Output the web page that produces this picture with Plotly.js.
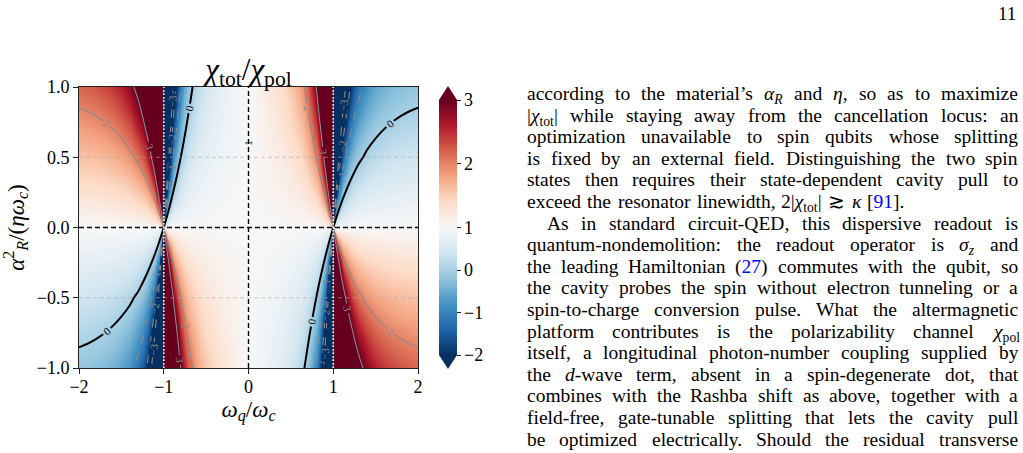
<!DOCTYPE html>
<html>
<head>
<meta charset="utf-8">
<script src="https://cdn.plot.ly/plotly-3.0.1.min.js"></script>
<style>
html,body{margin:0;padding:0;background:#fff;}
#chart{width:1023px;height:453px;}
</style>
</head>
<body>
<div id="chart"></div>
<script>
// ---------------- DATA ----------------
// rows of every z matrix correspond to aRows (alpha_R^2/(eta*omega_c))
const aRows = [-1, -0.5, 0, 0.5, 1];

// omega_q/omega_c  for  -2 .. -1
const xLeft = [-2.0,-1.9,-1.8,-1.7,-1.6,-1.5,-1.4,-1.3,-1.25,-1.2,-1.16,-1.12,-1.09,-1.06,-1.04,-1.025,-1.015,-1.007,-1.002];
const zLeft = [
  [-0.173,-0.209,-0.259,-0.329,-0.429,-0.577,-0.808,-1.206,-1.530,-2.020,-2.636,-3.666,-5.044,-7.804,-11.95,-19.41,-32.67,-70.58,-248.3],
  [0.414,0.396,0.371,0.336,0.286,0.212,0.096,-0.103,-0.265,-0.510,-0.818,-1.333,-2.022,-3.402,-5.475,-9.205,-15.84,-34.79,-123.7],
  [1,1,1,1,1,1,1,1,1,1,1,1,1,1,1,1,1,1,1],
  [1.587,1.605,1.630,1.665,1.715,1.789,1.904,2.103,2.265,2.510,2.818,3.333,4.022,5.402,7.475,11.21,17.84,36.79,125.7],
  [2.173,2.209,2.259,2.329,2.429,2.577,2.808,3.206,3.530,4.020,4.636,5.666,7.044,9.804,13.95,21.41,34.67,72.58,250.3]
];

// omega_q/omega_c  for  -1 .. 1
const xInner = [-0.998,-0.993,-0.985,-0.975,-0.96,-0.94,-0.91,-0.88,-0.84,-0.8,-0.75,-0.7,-0.65,-0.6,-0.55,-0.5,-0.4,-0.3,-0.2,-0.1,0,0.1,0.2,0.3,0.4,0.5,0.55,0.6,0.65,0.7,0.75,0.8,0.84,0.88,0.91,0.94,0.96,0.975,0.985,0.993,0.998];
const zInner = [
  [249.3,71.57,33.67,20.40,12.94,8.796,6.035,4.657,3.625,3.007,2.515,2.187,1.954,1.780,1.644,1.536,1.372,1.252,1.156,1.075,1,0.925,0.844,0.748,0.628,0.464,0.356,0.220,0.046,-0.187,-0.515,-1.007,-1.625,-2.657,-4.035,-6.796,-10.94,-18.40,-31.67,-69.57,-247.3],
  [125.2,36.29,17.34,10.70,6.97,4.898,3.518,2.829,2.313,2.004,1.758,1.594,1.477,1.390,1.322,1.268,1.186,1.126,1.078,1.038,1,0.963,0.922,0.874,0.814,0.732,0.678,0.610,0.523,0.407,0.243,-0.004,-0.313,-0.829,-1.518,-2.898,-4.97,-8.70,-15.34,-34.29,-123.2],
  [1,1,1,1,1,1,1,1,1,1,1,1,1,1,1,1,1,1,1,1,1,1,1,1,1,1,1,1,1,1,1,1,1,1,1,1,1,1,1,1,1],
  [-123.2,-34.29,-15.34,-8.70,-4.97,-2.898,-1.518,-0.829,-0.313,-0.004,0.243,0.407,0.523,0.610,0.678,0.732,0.814,0.874,0.922,0.963,1,1.038,1.078,1.126,1.186,1.268,1.322,1.390,1.477,1.594,1.758,2.004,2.313,2.829,3.518,4.898,6.97,10.70,17.34,36.29,125.2],
  [-247.3,-69.57,-31.67,-18.40,-10.94,-6.796,-4.035,-2.657,-1.625,-1.007,-0.515,-0.187,0.046,0.220,0.356,0.464,0.628,0.748,0.844,0.925,1,1.075,1.156,1.252,1.372,1.536,1.644,1.780,1.954,2.187,2.515,3.007,3.625,4.657,6.035,8.796,12.94,20.40,33.67,71.57,249.3]
];

// omega_q/omega_c  for  1 .. 2
const xRight = [1.002,1.007,1.015,1.025,1.04,1.06,1.09,1.12,1.16,1.2,1.25,1.3,1.4,1.5,1.6,1.7,1.8,1.9,2.0];
const zRight = [
  [250.3,72.58,34.67,21.41,13.95,9.804,7.044,5.666,4.636,4.020,3.530,3.206,2.808,2.577,2.429,2.329,2.259,2.209,2.173],
  [125.7,36.79,17.84,11.21,7.475,5.402,4.022,3.333,2.818,2.510,2.265,2.103,1.904,1.789,1.715,1.665,1.630,1.605,1.587],
  [1,1,1,1,1,1,1,1,1,1,1,1,1,1,1,1,1,1,1],
  [-123.7,-34.79,-15.84,-9.205,-5.475,-3.402,-2.022,-1.333,-0.818,-0.510,-0.265,-0.103,0.096,0.212,0.286,0.336,0.371,0.396,0.414],
  [-248.3,-70.58,-32.67,-19.41,-11.95,-7.804,-5.044,-3.666,-2.636,-2.020,-1.530,-1.206,-0.808,-0.577,-0.429,-0.329,-0.259,-0.209,-0.173]
];

const xTicks = [-2, -1, 0, 1, 2];
const yTicks = [-1, -0.5, 0, 0.5, 1];
const cbTicks = [-2, -1, 0, 1, 2, 3];
const negLevels = [-3, -1];   // dashed gray contours (start, end)
const posLevels = [2, 3];     // solid gray contours
const zeroLevel = 0;          // black contour
const unitLabel = {x: 0, y: 0.6, text: '1'};

const pageNumber = '11';
const textLines = [
  'according to the material’s <i>α</i><sub><i>R</i></sub> and <i>η</i>, so as to maximize',
  '|<i>χ</i><sub>tot</sub>| while staying away from the cancellation locus: an',
  'optimization unavailable to spin qubits whose splitting',
  'is fixed by an external field. Distinguishing the two spin',
  'states then requires their state-dependent cavity pull to',
  'exceed the resonator linewidth, 2|<i>χ</i><sub>tot</sub>| ≳ <i>κ</i> [<span style="color:#0000ff">91</span>].',
  'As in standard circuit-QED, this dispersive readout is',
  'quantum-nondemolition: the readout operator is <i>σ</i><sub><i>z</i></sub> and',
  'the leading Hamiltonian (<span style="color:#0000ff">27</span>) commutes with the qubit, so',
  'the cavity probes the spin without electron tunneling or a',
  'spin-to-charge conversion pulse. What the altermagnetic',
  'platform contributes is the polarizability channel <i>χ</i><sub>pol</sub>',
  'itself, a longitudinal photon-number coupling supplied by',
  'the <i>d</i>-wave term, absent in a spin-degenerate dot, that',
  'combines with the Rashba shift as above, together with a',
  'field-free, gate-tunable splitting that lets the cavity pull',
  'be optimized electrically. Should the residual transverse'
];
const raggedLines = [5];
const indentedLines = [6];

// ---------------- STYLE / LAYOUT ----------------
const W = 1023, H = 453;
const px = v => v / W, py = v => 1 - v / H;
const FONT = 'Liberation Serif, Times New Roman, serif';
const PLOT = {l: 79, r: 418, t: 87, b: 368};
const CB = {l: 439, w: 18, t: 100, b: 355, tip: 14};
const TXT = {l: 527, r: 1018, first: 96, gap: 21.6, indent: 20, size: 19.5};

const NORM = {vmin: -2, vcenter: 1, vmax: 3};
function norm(z) {
  return z >= NORM.vcenter
    ? 0.5 + 0.5 * (z - NORM.vcenter) / (NORM.vmax - NORM.vcenter)
    : 0.5 - 0.5 * (NORM.vcenter - z) / (NORM.vcenter - NORM.vmin);
}
const RdBu_r = [[0,'#053061'],[0.1,'#2166ac'],[0.2,'#4393c3'],[0.3,'#92c5de'],[0.4,'#d1e5f0'],
  [0.5,'#f7f7f7'],[0.6,'#fddbc7'],[0.7,'#f4a582'],[0.8,'#d6604d'],[0.9,'#b2182b'],[1,'#67001f']];
const minus = v => (v < 0 ? '\u2212' + Math.abs(v) : String(v));

const segments = [{x: xLeft, z: zLeft}, {x: xInner, z: zInner}, {x: xRight, z: zRight}];
const traces = [];
segments.forEach((s, i) => {
  traces.push({
    type: 'heatmap', x: s.x, y: aRows, z: s.z.map(r => r.map(norm)),
    zmin: 0, zmax: 1, zsmooth: 'best', colorscale: RdBu_r,
    showscale: i === 1, hoverinfo: 'skip',
    colorbar: {
      x: px(CB.l), xanchor: 'left', xpad: 0, ypad: 0,
      y: py((CB.t + CB.b) / 2), yanchor: 'middle',
      len: (CB.b - CB.t) / H, lenmode: 'fraction',
      thickness: CB.w, thicknessmode: 'pixels', outlinewidth: 0,
      tickvals: cbTicks.map(norm), ticktext: cbTicks.map(minus),
      ticks: 'outside', ticklen: 4, tickwidth: 1, tickcolor: '#222',
      tickfont: {family: FONT, size: 18, color: '#000'}
    }
  });
});
function contour(s, start, end, color, width, dash) {
  return {
    type: 'contour', x: s.x, y: aRows, z: s.z, autocontour: false,
    contours: {start: start, end: end, size: 1, coloring: 'none', showlabels: true,
      labelfont: {family: FONT, size: 11, color: color}},
    line: {color: color, width: width, dash: dash, smoothing: 1},
    showscale: false, hoverinfo: 'skip'
  };
}
segments.forEach(s => {
  traces.push(contour(s, negLevels[0], negLevels[1], '#8a8a8a', 1.1, 'dash'));
  traces.push(contour(s, posLevels[0], posLevels[1], '#8a8a8a', 1.1, 'solid'));
  traces.push(contour(s, zeroLevel, zeroLevel, '#000000', 2, 'solid'));
});

// shapes: grid, reference lines, colorbar extension triangles
const shapes = [];
yTicks.filter(v => Math.abs(v) !== 1 && v !== 0).forEach(v => shapes.push({
  type: 'line', xref: 'x', yref: 'y', x0: xTicks[0], x1: xTicks[xTicks.length - 1], y0: v, y1: v,
  line: {color: 'rgba(170,170,170,0.6)', width: 1, dash: '4px,3px'}}));
xTicks.filter(v => Math.abs(v) !== 2 && v !== 0).forEach(v => shapes.push({
  type: 'line', xref: 'x', yref: 'y', x0: v, x1: v, y0: yTicks[0], y1: yTicks[yTicks.length - 1],
  line: {color: 'rgba(170,170,170,0.6)', width: 1, dash: '4px,3px'}}));
shapes.push({type: 'line', xref: 'x', yref: 'y', x0: 0, x1: 0, y0: -1, y1: 1,
  line: {color: '#000', width: 1.4, dash: '5px,3px'}});
shapes.push({type: 'line', xref: 'x', yref: 'y', x0: -2, x1: 2, y0: 0, y1: 0,
  line: {color: '#000', width: 1.4, dash: '5px,3px'}});
[-1, 1].forEach(v => shapes.push({type: 'line', xref: 'x', yref: 'y', x0: v, x1: v, y0: -1, y1: 1,
  line: {color: '#ffffff', width: 1.6, dash: '1.5px,2px'}}));
const cx = CB.l + CB.w / 2;
shapes.push({type: 'path', xref: 'paper', yref: 'paper', line: {width: 0}, fillcolor: '#67001f',
  path: `M${px(CB.l)},${py(CB.t)} L${px(CB.l + CB.w)},${py(CB.t)} L${px(cx)},${py(CB.t - CB.tip)} Z`});
shapes.push({type: 'path', xref: 'paper', yref: 'paper', line: {width: 0}, fillcolor: '#053061',
  path: `M${px(CB.l)},${py(CB.b)} L${px(CB.l + CB.w)},${py(CB.b)} L${px(cx)},${py(CB.b + CB.tip)} Z`});

// annotations: contour "1" label, page number, justified body text
const annotations = [];
annotations.push({xref: 'x', yref: 'y', x: unitLabel.x, y: unitLabel.y, text: unitLabel.text,
  textangle: -90, showarrow: false, font: {family: FONT, size: 11, color: '#000'}, borderpad: 0});
annotations.push({xref: 'paper', yref: 'paper', x: px(1018), y: py(13), xanchor: 'right', yanchor: 'middle',
  text: pageNumber, showarrow: false, font: {family: FONT, size: 19, color: '#000'}});

const ctx = document.createElement('canvas').getContext('2d');
function measure(tok, fs) {
  let w = 0, ital = false, sub = false;
  tok.split(/(<[^>]+>)/).forEach(p => {
    if (!p) return;
    if (p[0] === '<') {
      if (p === '<i>') ital = true; else if (p === '</i>') ital = false;
      else if (p === '<sub>') sub = true; else if (p === '</sub>') sub = false;
      return;
    }
    ctx.font = (ital ? 'italic ' : '') + (sub ? fs * 0.7 : fs) + 'px "Liberation Serif"';
    w += ctx.measureText(p).width;
  });
  return w;
}
ctx.font = TXT.size + 'px "Liberation Serif"';
const spaceW = ctx.measureText(' ').width;
textLines.forEach((line, li) => {
  const toks = line.match(/(?:<[^>]*>|[^\s<])+/g);
  const widths = toks.map(t => measure(t, TXT.size));
  const left = TXT.l + (indentedLines.includes(li) ? TXT.indent : 0);
  const total = widths.reduce((a, b) => a + b, 0);
  const gap = raggedLines.includes(li) || toks.length < 2 ? spaceW * 1.3 : (TXT.r - left - total) / (toks.length - 1);
  let x = left;
  const yTop = TXT.first + li * TXT.gap - 13;
  toks.forEach((t, ti) => {
    annotations.push({xref: 'paper', yref: 'paper', x: px(x), y: py(yTop), xanchor: 'left', yanchor: 'top',
      text: t, showarrow: false, borderpad: 0, borderwidth: 0,
      font: {family: FONT, size: TXT.size, color: '#000'}});
    x += widths[ti] + gap;
  });
});

const axisCommon = {
  ticks: 'outside', ticklen: 5, tickwidth: 1, tickcolor: '#222',
  showline: true, linecolor: '#222', linewidth: 1, mirror: true,
  showgrid: false, zeroline: false,
  tickfont: {family: FONT, size: 18, color: '#000'}
};
const layout = {
  width: W, height: H, margin: {l: 0, r: 0, t: 0, b: 0},
  paper_bgcolor: '#fff', plot_bgcolor: '#fff', showlegend: false,
  title: {text: '<i>χ</i><sub>tot</sub>/<i>χ</i><sub>pol</sub>', xref: 'container', yref: 'container',
    x: px((PLOT.l + PLOT.r) / 2), y: py(69), xanchor: 'center', yanchor: 'middle',
    font: {family: FONT, size: 31, color: '#000'}},
  xaxis: Object.assign({}, axisCommon, {
    domain: [px(PLOT.l), px(PLOT.r)], range: [xTicks[0], xTicks[xTicks.length - 1]],
    tickvals: xTicks, ticktext: xTicks.map(minus), ticklabelstandoff: -3,
    title: {text: '<i>ω</i><sub><i>q</i></sub>/<i>ω</i><sub><i>c</i></sub>', standoff: 0,
      font: {family: FONT, size: 23, color: '#000'}}
  }),
  yaxis: Object.assign({}, axisCommon, {
    domain: [py(PLOT.b), py(PLOT.t)], range: [yTicks[0], yTicks[yTicks.length - 1]],
    tickvals: yTicks, tickformat: '.1f',
    title: {text: '<i>α</i><sup>2</sup><sub><i>R</i></sub>/(<i>ηω</i><sub><i>c</i></sub>)', standoff: 6,
      font: {family: FONT, size: 23, color: '#000'}}
  }),
  shapes: shapes,
  annotations: annotations
};
Plotly.newPlot('chart', traces, layout, {displayModeBar: false, staticPlot: true});
</script>
</body>
</html>
